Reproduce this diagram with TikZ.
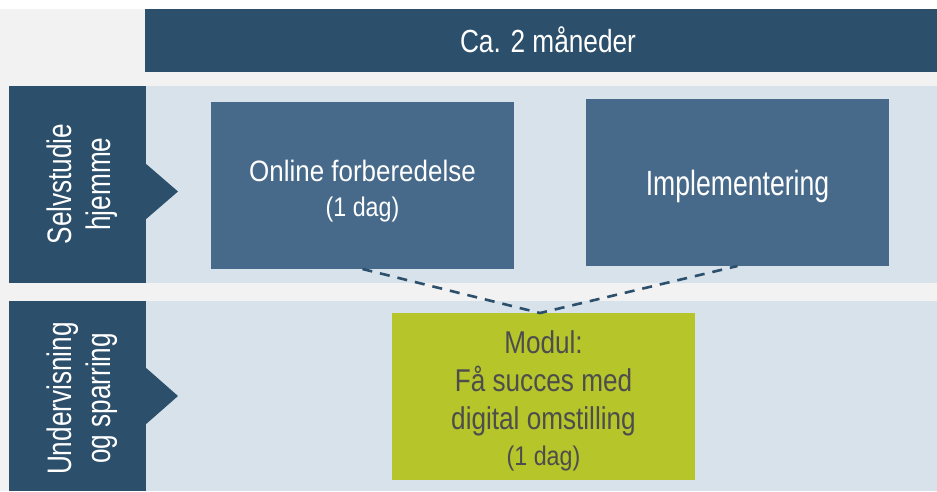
\documentclass[tikz,border=0pt]{standalone}
\usepackage{fontspec}
\setmainfont{Liberation Sans}
\newfontfamily\fhead{Liberation Sans}[FakeStretch=0.82]
\newfontfamily\fonl{Liberation Sans}[FakeStretch=0.88]
\newfontfamily\fimp{Liberation Sans}[FakeStretch=0.76]
\newfontfamily\fgrn{Liberation Sans}[FakeStretch=0.83]
\newfontfamily\fsmall{Liberation Sans}[FakeStretch=0.86]
\newfontfamily\flab{Liberation Sans}[FakeStretch=0.77]
\definecolor{bggray}{HTML}{F2F2F2}
\definecolor{darkblue}{HTML}{2C4F6B}
\definecolor{midblue}{HTML}{476A8B}
\definecolor{lightband}{HTML}{D7E2EB}
\definecolor{limegreen}{HTML}{B5C52A}
\definecolor{txtgray}{HTML}{4D4D4D}
\begin{document}
\begin{tikzpicture}[x=1pt,y=-1pt,
  blk/.style={draw=none, inner sep=0pt, outer sep=0pt, anchor=north west},
  wtxt/.style={anchor=base, inner sep=0pt, text=white},
  gtxt/.style={anchor=base, inner sep=0pt, text=txtgray},
  ltxt/.style={anchor=base, inner sep=0pt, text=white, rotate=90},
  dashline/.style={draw=darkblue, line width=2.6pt, dash pattern=on 10pt off 8pt}
]
\useasboundingbox (0,0) rectangle (937,491);
\fill[white] (0,0) rectangle (937,491);
\fill[bggray] (0,9) rectangle (937,491);

% header
\node[blk, fill=darkblue, minimum width=792pt, minimum height=63pt] (header) at (145,9) {};
\node[wtxt, font=\fhead\fontsize{32}{38}\selectfont] (headtxt) at (548,52.7) {Ca. 2 måneder};

% row 1
\node[blk, fill=lightband, minimum width=791pt, minimum height=197pt] (band1) at (146,86) {};
\node[blk, fill=darkblue, minimum width=137pt, minimum height=197pt] (lab1) at (9,86) {};
\fill[darkblue] (145,163) -- (178,191.5) -- (145,220) -- cycle;
\node[ltxt, font=\flab\fontsize{34}{40}\selectfont] (lab1a) at (71,184) {Selvstudie};
\node[ltxt, font=\flab\fontsize{34}{40}\selectfont] (lab1b) at (110,184) {hjemme};

% row 2
\node[blk, fill=lightband, minimum width=791pt, minimum height=190pt] (band2) at (146,301) {};
\node[blk, fill=darkblue, minimum width=137pt, minimum height=190pt] (lab2) at (9,301) {};
\fill[darkblue] (145,367) -- (178,396) -- (145,425) -- cycle;
\node[ltxt, font=\flab\fontsize{34}{40}\selectfont] (lab2a) at (71,398.5) {Undervisning};
\node[ltxt, font=\flab\fontsize{34}{40}\selectfont] (lab2b) at (110,398.5) {og sparring};

% boxes
\node[blk, fill=midblue, minimum width=303pt, minimum height=167pt] (online) at (211,102) {};
\node[wtxt, font=\fonl\fontsize{29.5}{35}\selectfont] (online1) at (362.5,181) {Online forberedelse};
\node[wtxt, font=\fsmall\fontsize{27}{32}\selectfont] (online2) at (362.5,216) {(1 dag)};

\node[blk, fill=midblue, minimum width=303pt, minimum height=167pt] (impl) at (586,99) {};
\node[wtxt, font=\fimp\fontsize{35}{40}\selectfont] (impltxt) at (737.5,195) {Implementering};

\node[blk, fill=limegreen, minimum width=303pt, minimum height=167pt] (modul) at (392,313) {};
\node[gtxt, font=\fgrn\fontsize{31.5}{38}\selectfont] (mod1) at (543.5,353.3) {Modul:};
\node[gtxt, font=\fgrn\fontsize{31.5}{38}\selectfont] (mod2) at (543.5,391.7) {Få succes med};
\node[gtxt, font=\fgrn\fontsize{31.5}{38}\selectfont] (mod3) at (543.5,429.3) {digital omstilling};
\node[gtxt, font=\fsmall\fontsize{27}{32}\selectfont] (mod4) at (543.5,465.7) {(1 dag)};

% dashed connectors
\coordinate (meet) at (540,313);
\draw[dashline] (online.south) -- (meet) -- (impl.south);
\end{tikzpicture}
\end{document}
